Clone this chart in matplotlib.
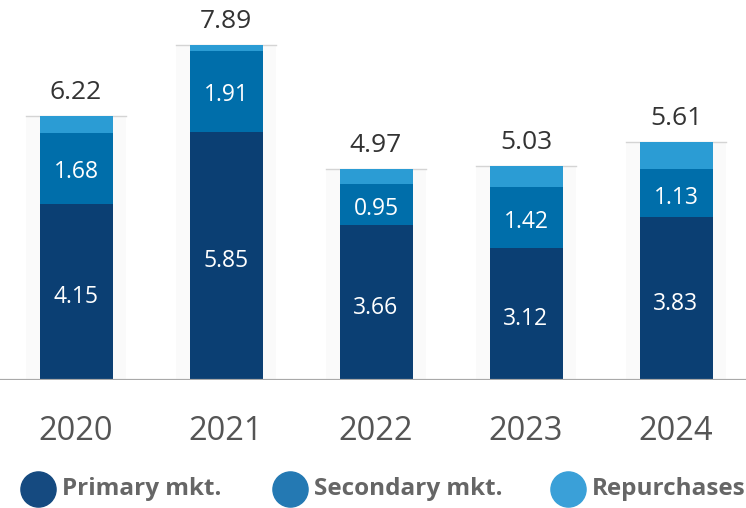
import matplotlib
matplotlib.use("Agg")
import matplotlib.pyplot as plt
import numpy as np

years = ["2020", "2021", "2022", "2023", "2024"]
primary = [4.15, 5.85, 3.66, 3.12, 3.83]
secondary = [1.68, 1.91, 0.95, 1.42, 1.13]
totals = [6.22, 7.89, 4.97, 5.03, 5.61]
repurchases = [round(t - p - s, 2) for t, p, s in zip(totals, primary, secondary)]
series_names = ["Primary mkt.", "Secondary mkt.", "Repurchases"]

c_prim = "#0b3f73"
c_sec = "#006eaa"
c_rep = "#2b9cd4"
legend_colors = ["#154a80", "#2479b3", "#3aa0d8"]

W, H = 746, 508
fig = plt.figure(figsize=(W / 100, H / 100), dpi=100)
fig.patch.set_facecolor("white")

font = "Open Sans"
scale = 42.45
base_px = 380
ax = fig.add_axes([0, (H - base_px) / H, 1, base_px / H])
ax.set_xlim(-76 / 150, (W - 76) / 150)
ax.set_ylim(0, base_px / scale)
ax.axis("off")

x = np.arange(len(years))
bw = 73 / 150
bgw = 100 / 150

# faint background panels
ax.bar(x, totals, width=bgw, color="#fafafa", zorder=1)
for xi, t in zip(x, totals):
    ax.plot([xi - bgw / 2, xi + bgw / 2], [t, t], color="#d4d4d4", lw=1.0, zorder=2)

ax.bar(x, primary, width=bw, color=c_prim, zorder=3)
ax.bar(x, secondary, width=bw, bottom=primary, color=c_sec, zorder=3)
bot2 = [p + s for p, s in zip(primary, secondary)]
ax.bar(x, repurchases, width=bw, bottom=bot2, color=c_rep, zorder=3)

ax.axhline(0.0, color="#a9a9a9", lw=2.3, zorder=4)

for xi, p, s, t in zip(x, primary, secondary, totals):
    ax.annotate(f"{p:.2f}", (xi, p / 2), xytext=(0, -4), textcoords="offset points",
                ha="center", va="center", color="white",
                fontsize=16.5, family=font, zorder=5)
    ax.annotate(f"{s:.2f}", (xi, p + s / 2), xytext=(0, -3), textcoords="offset points",
                ha="center", va="center", color="white",
                fontsize=16.5, family=font, zorder=5)
    ax.annotate(f"{t:.2f}", (xi, t), xytext=(0, 8), textcoords="offset points",
                ha="center", va="bottom", color="#333333", fontsize=19, family=font)

# overlay axes in pixel coordinates for year labels and legend
ov = fig.add_axes([0, 0, 1, 1])
ov.set_xlim(0, W)
ov.set_ylim(H, 0)
ov.axis("off")
ov.patch.set_alpha(0)

for xi, y in zip(x, years):
    px = 76 + 150 * xi
    ov.text(px, 432, y, ha="center", va="center", color="#555555",
            fontsize=23.5, family=font)

leg_x = [38, 290, 568]
for lx, name, col in zip(leg_x, series_names, legend_colors):
    ov.scatter([lx], [489], s=640, color=col, zorder=5)
    ov.text(lx + 24, 489, name, ha="left", va="center", color="#666666",
            fontsize=17.5, fontweight="bold", family=font)

fig.savefig("out.png", dpi=100, facecolor="white")
